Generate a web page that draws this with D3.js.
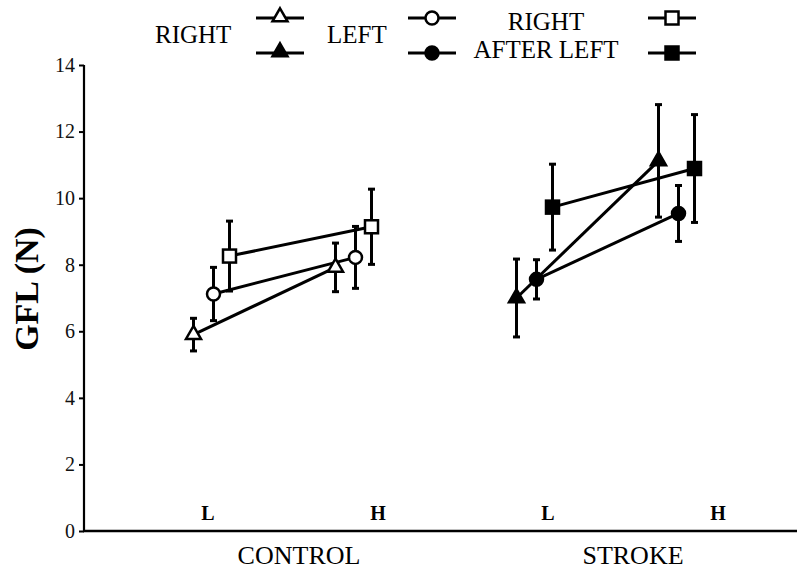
<!DOCTYPE html>
<html>
<head>
<meta charset="utf-8">
<script src="https://cdn.jsdelivr.net/npm/d3@7"></script>
<style>
  html, body { margin: 0; padding: 0; background: #fff; }
  svg { display: block; font-family: "Liberation Serif", "Times New Roman", serif; }
</style>
</head>
<body>
<svg id="chart" width="800" height="574"></svg>
<script>
// ---- data ----
const groups = ["CONTROL", "STROKE"];
const levels = ["L", "H"];
const series = ["RIGHT", "LEFT", "RIGHT AFTER LEFT"];
const yTicks = [0, 2, 4, 6, 8, 10, 12, 14];
// order: CONTROL-L, CONTROL-H, STROKE-L, STROKE-H
const rightMean = [5.9, 7.92, 7.0, 11.12];
const rightSD   = [0.49, 0.73, 1.17, 1.69];
const leftMean  = [7.12, 8.22, 7.56, 9.54];
const leftSD    = [0.80, 0.93, 0.59, 0.84];
const afterMean = [8.26, 9.14, 9.73, 10.89];
const afterSD   = [1.05, 1.13, 1.29, 1.62];

const seriesData = [
  { name: "RIGHT", mean: rightMean, sd: rightSD, shape: "triangle" },
  { name: "LEFT", mean: leftMean, sd: leftSD, shape: "circle" },
  { name: "RIGHT AFTER LEFT", mean: afterMean, sd: afterSD, shape: "square" }
];
const conds = [];
groups.forEach(g => levels.forEach(l => conds.push({ g, l, key: g + "-" + l })));

// ---- scales ----
const svg = d3.select("#chart");
const y = d3.scaleLinear().domain([0, 14]).range([531, 65]);
const xGroup = d3.scalePoint().domain(groups).range([284.5, 607.5]);
const xLevel = d3.scalePoint().domain(levels).range([-71, 71]);
const xSeries = d3.scaleOrdinal().domain(series).range([-20, 0, 16]);
const xTickLab = d3.scalePoint().domain(conds.map(c => c.key)).range([208, 718]);
const xGroupLab = d3.scalePoint().domain(groups).range([299, 633]);
const xAxisEnd = 797, xAxisStart = 84;

function px(s, i) {
  const c = conds[i];
  return xGroup(c.g) + xLevel(c.l) + xSeries(s);
}

// ---- axes ----
const yAxis = d3.axisLeft(y).tickValues(yTicks).tickSize(5).tickPadding(4).tickFormat(d3.format("d"));
const gy = svg.append("g").attr("transform", `translate(${xAxisStart},0)`).call(yAxis);
gy.select(".domain").attr("stroke", "#000").attr("stroke-width", 2.2).attr("d", `M0,${y(14)}V${y(0)}`);
gy.selectAll(".tick line").attr("stroke", "#000").attr("stroke-width", 2);
gy.selectAll(".tick text").attr("font-size", 20).attr("font-family", "Liberation Serif").attr("fill", "#111");

svg.append("line").attr("x1", xAxisStart - 1).attr("x2", xAxisEnd)
  .attr("y1", y(0)).attr("y2", y(0)).attr("stroke", "#000").attr("stroke-width", 2.5);

// L/H labels
svg.append("g").selectAll("text").data(conds).join("text")
  .attr("x", d => xTickLab(d.key)).attr("y", 520)
  .attr("text-anchor", "middle").attr("font-weight", "bold").attr("font-size", 20)
  .text(d => d.l);

// group labels
svg.append("g").selectAll("text").data(groups).join("text")
  .attr("x", d => xGroupLab(d)).attr("y", 564)
  .attr("text-anchor", "middle").attr("font-size", 26)
  .text(d => d);

// y title
svg.append("text")
  .attr("transform", `translate(38,289) rotate(-90)`)
  .attr("text-anchor", "middle").attr("font-weight", "bold").attr("font-size", 34)
  .text("GFL (N)");

// ---- markers ----
function drawMarker(g, shape, cx, cy, filled) {
  const fill = filled ? "#000" : "#fff";
  if (shape === "triangle") {
    const s = 15, h = 13;
    g.append("path")
      .attr("d", `M${cx},${cy - h * 2 / 3}L${cx + s / 2},${cy + h / 3}L${cx - s / 2},${cy + h / 3}Z`)
      .attr("fill", fill).attr("stroke", "#000").attr("stroke-width", 2.5).attr("stroke-linejoin", "miter");
  } else if (shape === "circle") {
    g.append("circle").attr("cx", cx).attr("cy", cy).attr("r", 6.5)
      .attr("fill", fill).attr("stroke", "#000").attr("stroke-width", 2.5);
  } else {
    const s = 13;
    g.append("rect").attr("x", cx - s / 2).attr("y", cy - s / 2).attr("width", s).attr("height", s)
      .attr("fill", fill).attr("stroke", "#000").attr("stroke-width", 2.5);
  }
}

const plot = svg.append("g");
const lineLayer = plot.append("g");
const errLayer = plot.append("g");
const markLayer = plot.append("g");

seriesData.forEach(sd => {
  // connecting lines per group
  groups.forEach((g, gi) => {
    const idx = [gi * 2, gi * 2 + 1];
    lineLayer.append("path")
      .attr("d", d3.line()(idx.map(i => [px(sd.name, i), y(sd.mean[i])])))
      .attr("stroke", "#000").attr("stroke-width", 3).attr("fill", "none");
  });
  sd.mean.forEach((m, i) => {
    const cx = px(sd.name, i);
    const top = y(m + sd.sd[i]), bot = y(m - sd.sd[i]);
    errLayer.append("line").attr("x1", cx).attr("x2", cx).attr("y1", top).attr("y2", bot)
      .attr("stroke", "#000").attr("stroke-width", 3);
    [top, bot].forEach(yy => errLayer.append("line")
      .attr("x1", cx - 3.5).attr("x2", cx + 3.5).attr("y1", yy).attr("y2", yy)
      .attr("stroke", "#000").attr("stroke-width", 3));
    drawMarker(markLayer, sd.shape, cx, y(m), conds[i].g === "STROKE");
  });
});

// ---- legend ----
const leg = svg.append("g");
const legRows = [18, 53];
const legItems = [
  { shape: "triangle", cx: 280 },
  { shape: "circle", cx: 432 },
  { shape: "square", cx: 672 }
];
legItems.forEach(it => {
  legRows.forEach((ry, ri) => {
    leg.append("line").attr("x1", it.cx - 24).attr("x2", it.cx + 24).attr("y1", ry).attr("y2", ry)
      .attr("stroke", "#000").attr("stroke-width", 3);
    drawMarker(leg, it.shape, it.cx, ry + (it.shape === "triangle" ? -1 : 0), ri === 1);
  });
});
leg.append("text").attr("x", 155).attr("y", 43).attr("font-size", 25).text("RIGHT");
leg.append("text").attr("x", 327).attr("y", 43).attr("font-size", 25).text("LEFT");
leg.append("text").attr("x", 546).attr("y", 30).attr("font-size", 25).attr("text-anchor", "middle").text("RIGHT");
leg.append("text").attr("x", 546).attr("y", 58).attr("font-size", 25).attr("text-anchor", "middle").text("AFTER LEFT");
</script>
</body>
</html>
